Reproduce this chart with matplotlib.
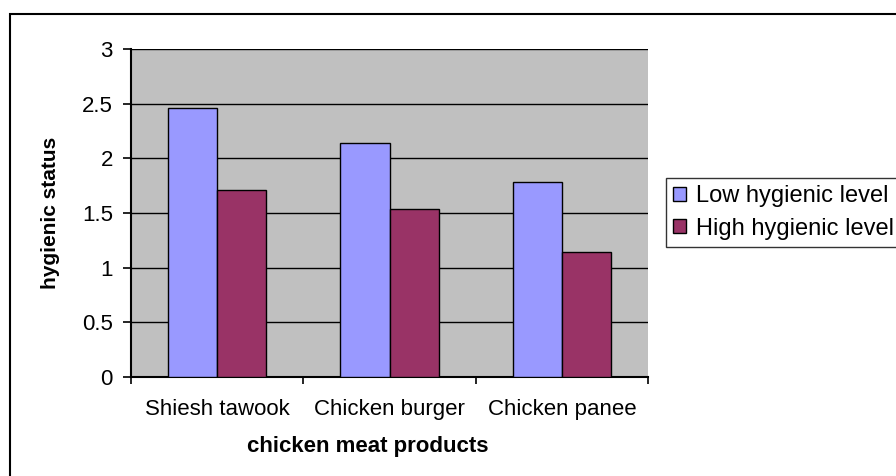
import numpy as np
import matplotlib.pyplot as plt
import matplotlib.patches as mpatches

plt.rcParams['font.family'] = ['Liberation Sans', 'DejaVu Sans']

# hygienic status scores per product
products = ['Shiesh tawook', 'Chicken burger', 'Chicken panee']
low_level = [2.46, 2.14, 1.78]
high_level = [1.71, 1.54, 1.14]
series_names = ['Low hygienic level', 'High hygienic level']

fig = plt.figure(figsize=(8.96, 4.76), dpi=100)
fig.patch.set_facecolor('white')

# outer chart border (runs past the right/bottom edge)
fig.patches.append(mpatches.Rectangle((10 / 896, -0.2), 2.0, 1.2 - 14 / 476,
                                      transform=fig.transFigure, fill=False,
                                      edgecolor='black', linewidth=1.5,
                                      clip_on=False, zorder=0))

ax = fig.add_axes([131 / 896, 1 - 377 / 476, 517 / 896, 328 / 476])
ax.set_facecolor('#C0C0C0')

x = np.arange(len(products))
w = 1 / 3.5
ax.bar(x - w / 2, low_level, w, color='#9999FF', edgecolor='black',
       linewidth=1.0, label=series_names[0], zorder=3)
ax.bar(x + w / 2, high_level, w, color='#993366', edgecolor='black',
       linewidth=1.0, label=series_names[1], zorder=3)

ax.set_xlim(-0.5, len(products) - 0.5)
ax.set_ylim(0, 3)
ax.set_yticks(np.arange(0, 3.01, 0.5))
ax.set_yticklabels(['0', '0.5', '1', '1.5', '2', '2.5', '3'])
ax.yaxis.grid(True, color='black', linewidth=1.0, zorder=1)
ax.set_axisbelow(True)

ax.set_xticks(x)
ax.set_xticklabels(products)
ax.set_xticks(np.arange(-0.5, len(products), 1), minor=True)
ax.tick_params(axis='x', which='major', length=0, pad=16, labelsize=16)
ax.tick_params(axis='x', which='minor', length=5, width=1.2, direction='out')
ax.tick_params(axis='y', length=6, width=1.2, direction='out', pad=7,
               labelsize=16)

for side in ['top', 'right']:
    ax.spines[side].set_visible(False)
for side in ['left', 'bottom']:
    ax.spines[side].set_linewidth(1.5)

ax.set_xlabel('chicken meat products', fontsize=16, fontweight='bold')
ax.xaxis.set_label_coords(0.458, -0.18)
ax.set_ylabel('hygienic status', fontsize=15, fontweight='bold', va='center')
ax.yaxis.set_label_coords(-0.155, 0.5)

leg = fig.legend(loc='upper left', bbox_to_anchor=(666 / 896, 1 - 178 / 476),
                 fontsize=17, frameon=True, fancybox=False, shadow=False,
                 handlelength=0.55, handleheight=0.55, handletextpad=0.4,
                 labelspacing=0.45, borderpad=0.3, borderaxespad=0)
leg.get_frame().set_edgecolor('black')
leg.get_frame().set_linewidth(1.0)

fig.savefig('out.png', dpi=100)
